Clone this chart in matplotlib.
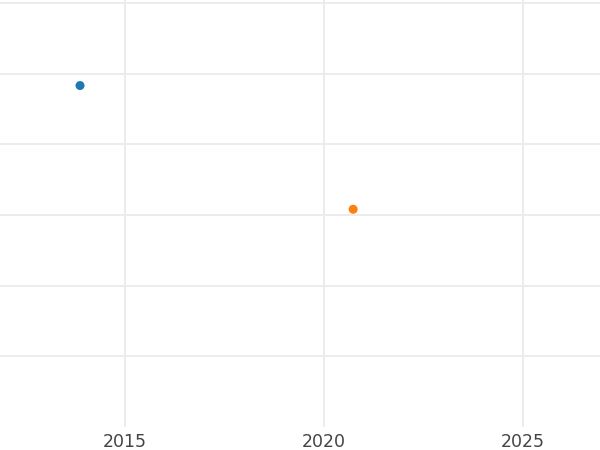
import matplotlib
matplotlib.use("Agg")
import matplotlib.pyplot as plt

# data
years = [2013.87, 2020.73]
values = [4.83, 3.08]
colors = ["#1f77b4", "#ff7f0e"]

x_ticks = [2015, 2020, 2025]
y_ticks = [1, 2, 3, 4, 5, 6]

fig = plt.figure(figsize=(6, 4.5), dpi=100)
ax = fig.add_axes([0, 1 - 427 / 450, 1, 427 / 450])

ax.scatter(years, values, c=colors, s=42, zorder=3, linewidths=0)

ax.set_xlim(2011.86, 2026.93)
ax.set_ylim(0, 6.04)
ax.set_xticks(x_ticks)
ax.set_xticklabels([str(t) for t in x_ticks])
ax.set_yticks(y_ticks)
ax.set_yticklabels([])

ax.grid(True, color="#ebebeb", linewidth=1.3)
ax.set_axisbelow(True)
for s in ax.spines.values():
    s.set_visible(False)
ax.tick_params(axis="both", length=0)
ax.tick_params(axis="x", labelsize=12.5, labelcolor="#444444", pad=4)

fig.savefig("out.png", dpi=100)
